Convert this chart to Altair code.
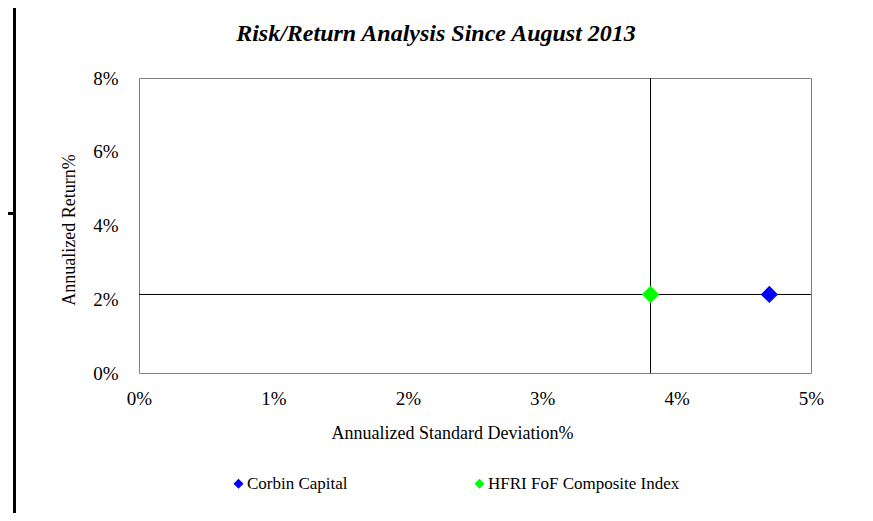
import altair as alt
import pandas as pd

# Data
names = ["Corbin Capital", "HFRI FoF Composite Index"]
std_dev = [0.0469, 0.03806]     # annualized standard deviation
returns = [0.0213, 0.0213]      # annualized return
colors = ["#0000FF", "#00FF00"]

x_ticks = [0, 0.01, 0.02, 0.03, 0.04, 0.05]
y_ticks = [0, 0.02, 0.04, 0.06, 0.08]

# reference lines go through the index (HFRI) point
ref_x = std_dev[1]
ref_y = returns[1]

FONT = "Liberation Serif"

df = pd.DataFrame({"name": names, "std": std_dev, "ret": returns})
ref_v = pd.DataFrame({"x": [ref_x]})
ref_h = pd.DataFrame({"y": [ref_y]})

xscale = alt.Scale(domain=[0, 0.05], nice=False, zero=True)
yscale = alt.Scale(domain=[0, 0.08], nice=False, zero=True)

x_axis = alt.Axis(
    values=x_ticks, format=".0%", grid=False, ticks=False, domain=False,
    labelFont=FONT, labelFontSize=19, labelColor="#000000", labelPadding=16,
    labelFlush=False,
    title="Annualized Standard Deviation%", titleFont=FONT, titleFontSize=18,
    titleFontWeight="normal", titleColor="#000000",
    titleX=313, titleY=65, titleBaseline="alphabetic", titleAlign="center",
)
y_axis = alt.Axis(
    values=y_ticks, format=".0%", grid=False, ticks=False, domain=False,
    labelFont=FONT, labelFontSize=19, labelColor="#000000", labelPadding=21,
    labelFlush=False,
    title="Annualized Return%", titleFont=FONT, titleFontSize=18,
    titleFontWeight="normal", titleColor="#000000",
    titleX=-64.5, titleY=151.5, titleBaseline="alphabetic", titleAngle=-90,
    titleAlign="center",
)

vline = alt.Chart(ref_v).mark_rule(color="#000000", strokeWidth=1).encode(
    x=alt.X("x:Q", scale=xscale, axis=x_axis)
)
hline = alt.Chart(ref_h).mark_rule(color="#000000", strokeWidth=1).encode(
    y=alt.Y("y:Q", scale=yscale, axis=y_axis)
)

points = alt.Chart(df).mark_point(
    shape="diamond", filled=True, size=300, opacity=1
).encode(
    x=alt.X("std:Q", scale=xscale),
    y=alt.Y("ret:Q", scale=yscale),
    color=alt.Color(
        "name:N",
        scale=alt.Scale(domain=names, range=colors),
        legend=alt.Legend(
            title=None, orient="none", legendX=91, legendY=397,
            direction="horizontal", columns=2, columnPadding=123,
            symbolType="diamond", symbolSize=100, symbolStrokeWidth=0,
            symbolOpacity=1,
            labelFont=FONT, labelFontSize=17, labelColor="#000000",
            labelOffset=0, padding=0, labelLimit=400,
        ),
    ),
)

# decorative page frame lines visible at the left of the reference picture
frame_v = alt.Chart(ref_v).mark_rule(color="#000000", strokeWidth=3).encode(
    x=alt.value(-124.5), y=alt.value(-70), y2=alt.value(450)
)
frame_h = alt.Chart(ref_v).mark_rule(color="#000000", strokeWidth=3).encode(
    x=alt.value(-140), x2=alt.value(-124.5), y=alt.value(135.5)
)

chart = alt.layer(vline, hline, points, frame_v, frame_h).properties(
    width=672,
    height=295,
    autosize=alt.AutoSizeParams(type="none"),
    padding={"left": 131, "top": 70, "right": 54, "bottom": 140},
    title=alt.Title(
        "Risk/Return Analysis Since August 2013",
        font=FONT, fontSize=24, fontWeight="bold", fontStyle="italic",
        color="#000000", anchor="middle", dx=-39, offset=0, dy=58.5,
        baseline="alphabetic",
    ),
).configure_view(
    stroke="#808080", strokeWidth=1
).configure_legend(
    labelFont=FONT
)

chart.save("out.html", embed_options={"renderer": "svg", "actions": False})
